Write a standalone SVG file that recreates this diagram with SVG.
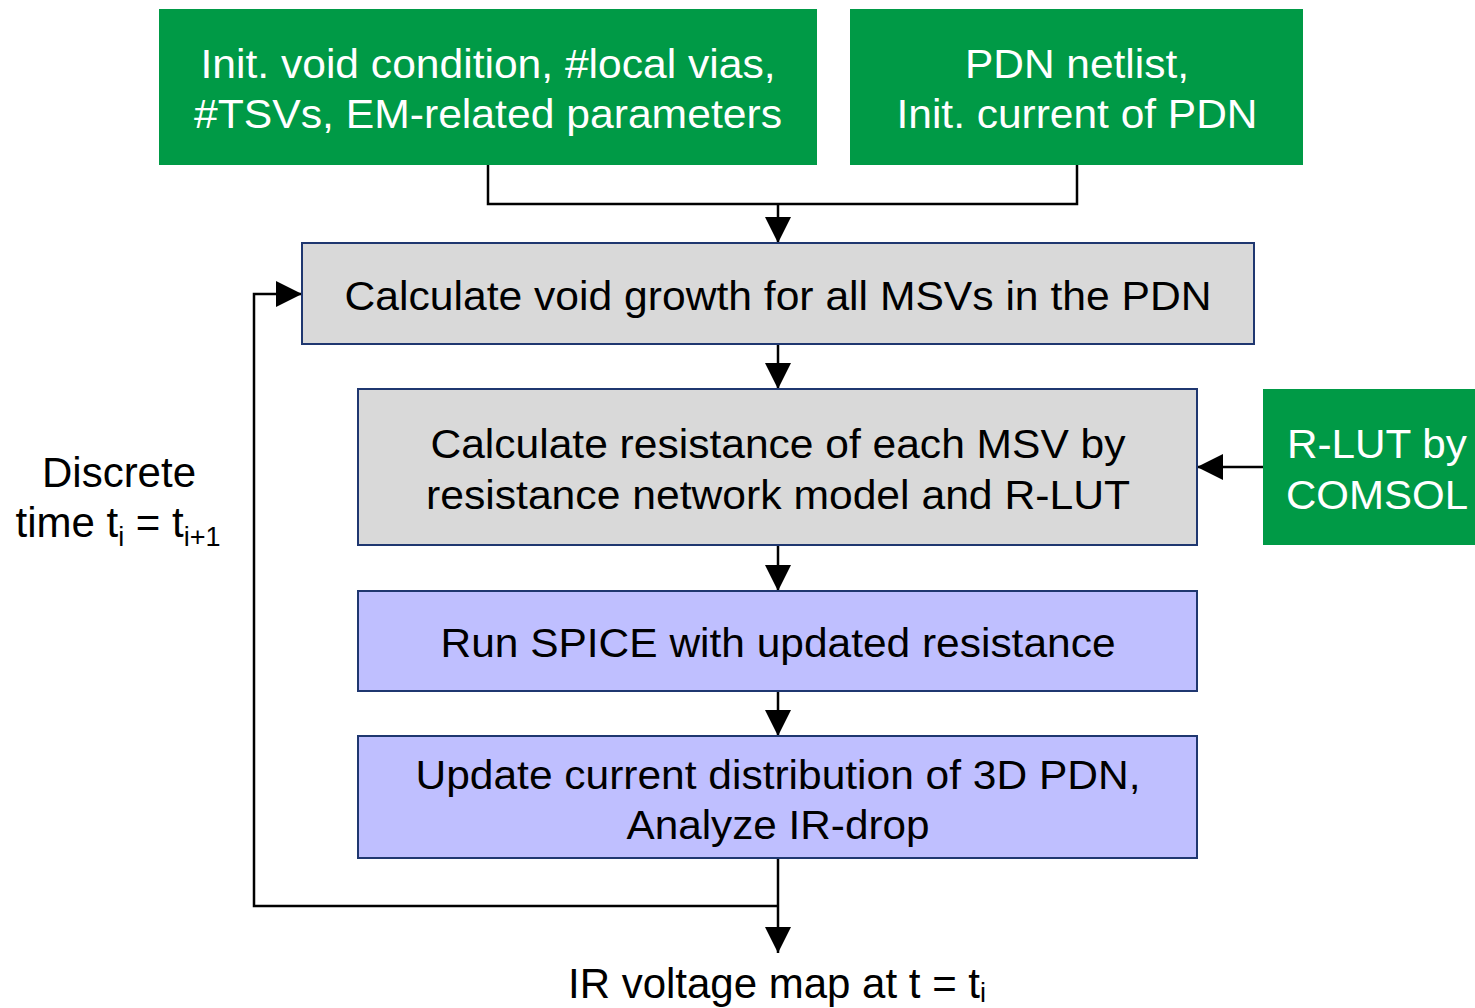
<svg xmlns="http://www.w3.org/2000/svg" width="1475" height="1008" viewBox="0 0 1475 1008">
  <style>
    .input { fill: #009A46; }
    .step { stroke: #1F3770; stroke-width: 2; }
    .grey { fill: #D9D9D9; }
    .violet { fill: #BFBFFF; }
    .lbl { font-family: "Liberation Sans", Arial, sans-serif; font-size: 40px; text-anchor: middle; fill: #000; }
    .big { font-size: 42px; }
    .white { fill: #FFFFFF; }
    .sub { font-size: 27px; }
    .wire { fill: none; stroke: #000; stroke-width: 2.5; }
  </style>
  <defs>
    <marker id="head" markerUnits="userSpaceOnUse" markerWidth="26" markerHeight="26" refX="26" refY="13" orient="auto">
      <path d="M0,0 L26,13 L0,26 Z" fill="#000"/>
    </marker>
  </defs>

  <rect width="1475" height="1008" fill="#FFFFFF"/>

  <g id="connectors">
    <polyline class="wire" points="488,165 488,204 1077,204 1077,165"/>
    <line class="wire" x1="778" y1="204" x2="778" y2="243" marker-end="url(#head)"/>
    <line class="wire" x1="778" y1="344" x2="778" y2="389" marker-end="url(#head)"/>
    <line class="wire" x1="1263" y1="467" x2="1197" y2="467" marker-end="url(#head)"/>
    <line class="wire" x1="778" y1="545" x2="778" y2="591" marker-end="url(#head)"/>
    <line class="wire" x1="778" y1="691" x2="778" y2="736" marker-end="url(#head)"/>
    <line class="wire" x1="778" y1="858" x2="778" y2="953" marker-end="url(#head)"/>
    <polyline class="wire" points="778,906 254,906 254,294 302,294" marker-end="url(#head)"/>
  </g>

  <g id="init-params">
    <rect class="input" x="159" y="9" width="658" height="156"/>
    <text class="lbl white" x="488" y="78" textLength="575" lengthAdjust="spacingAndGlyphs">Init. void condition, #local vias,</text>
    <text class="lbl white" x="488" y="128" textLength="588" lengthAdjust="spacingAndGlyphs">#TSVs, EM-related parameters</text>
  </g>

  <g id="pdn-netlist">
    <rect class="input" x="850" y="9" width="453" height="156"/>
    <text class="lbl white" x="1077" y="78" textLength="224" lengthAdjust="spacingAndGlyphs">PDN netlist,</text>
    <text class="lbl white" x="1077" y="128" textLength="361" lengthAdjust="spacingAndGlyphs">Init. current of PDN</text>
  </g>

  <g id="void-growth">
    <rect class="step grey" x="302" y="243" width="952" height="101"/>
    <text class="lbl" x="778" y="310" textLength="867" lengthAdjust="spacingAndGlyphs">Calculate void growth for all MSVs in the PDN</text>
  </g>

  <g id="resistance">
    <rect class="step grey" x="358" y="389" width="839" height="156"/>
    <text class="lbl" x="778" y="458" textLength="695" lengthAdjust="spacingAndGlyphs">Calculate resistance of each MSV by</text>
    <text class="lbl" x="778" y="509" textLength="704" lengthAdjust="spacingAndGlyphs">resistance network model and R-LUT</text>
  </g>

  <g id="rlut">
    <rect class="input" x="1263" y="389" width="212" height="156"/>
    <text class="lbl white" x="1377" y="458" textLength="180" lengthAdjust="spacingAndGlyphs">R-LUT by</text>
    <text class="lbl white" x="1377" y="509" textLength="182" lengthAdjust="spacingAndGlyphs">COMSOL</text>
  </g>

  <g id="spice">
    <rect class="step violet" x="358" y="591" width="839" height="100"/>
    <text class="lbl" x="778" y="657" textLength="675" lengthAdjust="spacingAndGlyphs">Run SPICE with updated resistance</text>
  </g>

  <g id="update-current">
    <rect class="step violet" x="358" y="736" width="839" height="122"/>
    <text class="lbl" x="778" y="789" textLength="725" lengthAdjust="spacingAndGlyphs">Update current distribution of 3D PDN,</text>
    <text class="lbl" x="778" y="839" textLength="303" lengthAdjust="spacingAndGlyphs">Analyze IR-drop</text>
  </g>

  <g id="discrete-time">
    <text class="lbl big" x="119" y="487">Discrete</text>
    <text class="lbl big" x="118" y="537">time t<tspan class="sub" dy="9">i</tspan><tspan dy="-9"> = t</tspan><tspan class="sub" dy="9">i+1</tspan></text>
  </g>

  <g id="ir-map">
    <text class="lbl big" x="777" y="998">IR voltage map at t = t<tspan class="sub" dy="4">i</tspan></text>
  </g>
</svg>
